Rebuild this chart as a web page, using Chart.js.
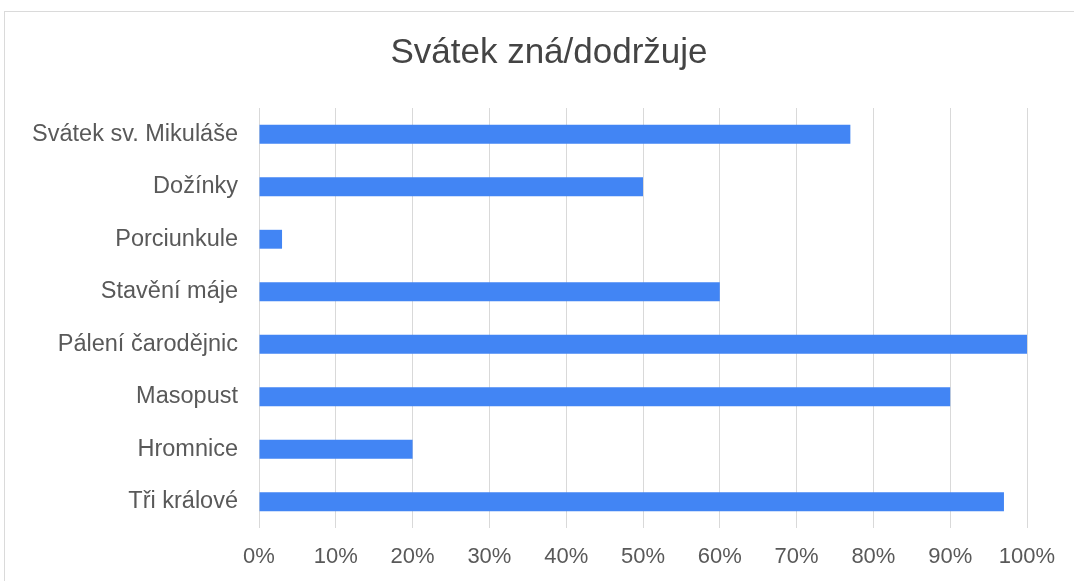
<!DOCTYPE html>
<html lang="cs">
<head>
  <meta charset="UTF-8">
  <title>Svátek zná/dodržuje</title>
  <script src="https://cdn.jsdelivr.net/npm/chart.js"></script>
  <style>
    html, body { margin: 0; padding: 0; background: #fff; }
    #wrap { position: relative; width: 1074px; height: 581px; overflow: hidden; }
    #frame { position: absolute; left: 4px; top: 11px; width: 1200px; height: 700px; border: 1px solid #dadada; }
    canvas { position: absolute; left: 0; top: 0; }
  </style>
</head>
<body>
  <div id="wrap">
    <div id="frame"></div>
    <canvas id="chart" width="1074" height="581"></canvas>
  </div>

  <script>
    const categories = ["Svátek sv. Mikuláše", "Dožínky", "Porciunkule", "Stavění máje",
                        "Pálení čarodějnic", "Masopust", "Hromnice", "Tři králové"];
    const values = [77, 50, 3, 60, 100, 90, 20, 97];
    const tickLabels = ["0%", "10%", "20%", "30%", "40%", "50%", "60%", "70%", "80%", "90%", "100%"];

    const font = "'Liberation Sans', Arial, sans-serif";

    // the original title sits a bit right of the canvas centre
    const shiftTitle = {
      id: "shiftTitle",
      afterLayout: c => {
        if (c.titleBlock) {
          c.titleBlock.left = 71;
          c.titleBlock.width = c.titleBlock.right - 71;
        }
      }
    };

    new Chart(document.getElementById("chart"), {
      type: "bar",
      data: {
        labels: categories,
        datasets: [{
          data: values,
          backgroundColor: "#4285f4",
          borderWidth: 0,
          barPercentage: 0.36,
          categoryPercentage: 1
        }]
      },
      options: {
        indexAxis: "y",
        responsive: false,
        animation: false,
        layout: { padding: { left: 0, right: 47, top: 0, bottom: 0 } },
        plugins: {
          legend: { display: false },
          tooltip: { enabled: false },
          title: {
            display: true,
            text: "Svátek zná/dodržuje",
            color: "#444",
            font: { family: font, size: 35, weight: "normal" },
            padding: { top: 32, bottom: 34 }
          }
        },
        scales: {
          x: {
            min: 0,
            max: 100,
            afterFit: s => { s.height = 53; },
            afterBuildTicks: s => { s.ticks = tickLabels.map((t, i) => ({ value: i * 10 })); },
            ticks: {
              callback: (v, i) => tickLabels[i],
              color: "#595959",
              font: { family: font, size: 22 },
              padding: 16,
              maxRotation: 0
            },
            grid: { color: "#d9d9d9", drawTicks: false },
            border: { display: false }
          },
          y: {
            afterFit: s => { s.width = 259; },
            ticks: {
              color: "#595959",
              font: { family: font, size: 23.5 },
              padding: 13
            },
            grid: { display: false },
            border: { display: false }
          }
        }
      },
      plugins: [shiftTitle]
    });
  </script>
</body>
</html>
